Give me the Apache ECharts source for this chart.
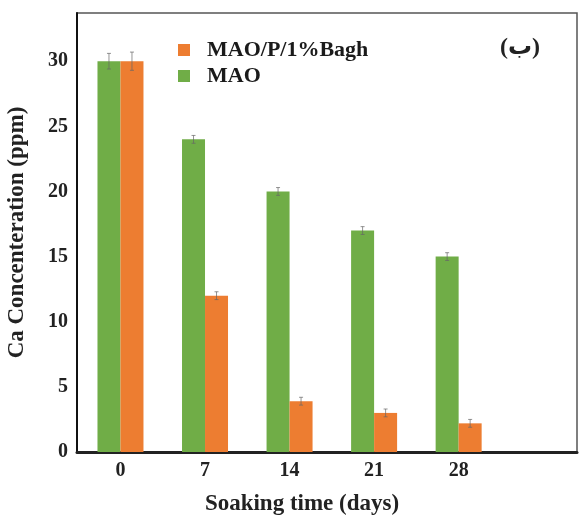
<!DOCTYPE html>
<html>
<head>
<meta charset="utf-8">
<script src="https://cdn.jsdelivr.net/npm/echarts@6/dist/echarts.min.js"></script>
<style>
  html, body { margin: 0; padding: 0; background: #fff; }
  #chart { width: 579px; height: 520px; }
</style>
</head>
<body>
<div id="chart"></div>
<script>
// Soaking time (days) and Ca concentration (ppm)
const days = [0, 7, 14, 21, 28];
const maoValues = [30, 24, 20, 17, 15];
const bagValues = [30, 12, 3.9, 3.0, 2.2];
const maoErrors = [0.6, 0.3, 0.3, 0.3, 0.3];
const bagErrors = [0.7, 0.3, 0.3, 0.3, 0.3];
const yTicks = [0, 5, 10, 15, 20, 25, 30];

const GREEN = '#70AD47';
const ORANGE = '#ED7D31';
const FONT = '"Liberation Serif", "Times New Roman", serif';
const BAR_W = 23;

const chart = echarts.init(document.getElementById('chart'), null, { renderer: 'canvas' });

function pairs(vals) { return days.map((d, i) => [d, vals[i]]); }
function errPairs(vals, errs) { return days.map((d, i) => [d, vals[i], errs[i]]); }

// whisker with small caps, shifted to the middle of its bar
function errorRenderer(shift) {
  return function (params, api) {
    const x = api.value(0), v = api.value(1), e = api.value(2);
    const hi = api.coord([x, v + e]);
    const lo = api.coord([x, v - e]);
    const cx = hi[0] + shift;
    const style = { stroke: '#666', lineWidth: 1, opacity: 0.7 };
    return {
      type: 'group',
      children: [
        { type: 'line', shape: { x1: cx, y1: hi[1], x2: cx, y2: lo[1] }, style },
        { type: 'line', shape: { x1: cx - 2, y1: hi[1], x2: cx + 2, y2: hi[1] }, style },
        { type: 'line', shape: { x1: cx - 2, y1: lo[1], x2: cx + 2, y2: lo[1] }, style }
      ]
    };
  };
}

chart.setOption({
  animation: false,
  backgroundColor: '#fff',
  grid: {
    left: 77, right: 2, top: 13, bottom: 68,
    outerBoundsMode: 'none',
    show: true, borderColor: '#555', borderWidth: 1.5
  },
  legend: {
    data: ['MAO/P/1%Bagh', 'MAO'],
    orient: 'vertical',
    left: 173, top: 34,
    icon: 'rect',
    itemWidth: 12, itemHeight: 12,
    itemGap: 4,
    textStyle: {
      fontFamily: FONT, fontWeight: 'bold', fontSize: 22, color: '#1a1a1a',
      padding: [0, 0, 0, 12]
    }
  },
  xAxis: {
    type: 'value',
    min: -3.6, max: 37.8,
    splitLine: { show: false },
    axisTick: { show: false },
    axisLine: { show: true, onZero: false, lineStyle: { color: '#222', width: 3 } },
    axisLabel: {
      customValues: days,
      margin: 9,
      fontFamily: FONT, fontWeight: 'bold', fontSize: 20, color: '#222'
    },
    name: 'Soaking time (days)',
    nameLocation: 'middle',
    nameGap: 41,
    nameTextStyle: {
      fontFamily: FONT, fontWeight: 'bold', fontSize: 23, color: '#222',
      padding: [0, 50, 0, 0]
    }
  },
  yAxis: {
    type: 'value',
    min: 0, max: 33.7,
    splitLine: { show: false },
    axisTick: { show: false },
    axisLine: { show: true, onZero: false, lineStyle: { color: '#111', width: 2 } },
    axisLabel: {
      customValues: yTicks,
      margin: 9,
      fontFamily: FONT, fontWeight: 'bold', fontSize: 20, color: '#222'
    },
    name: 'Ca Concenteration (ppm)',
    nameLocation: 'middle',
    nameGap: 48,
    nameTextStyle: {
      fontFamily: FONT, fontWeight: 'bold', fontSize: 23, color: '#222'
    }
  },
  series: [
    {
      name: 'MAO', type: 'bar', data: pairs(maoValues),
      barWidth: BAR_W, barGap: '0%',
      itemStyle: { color: GREEN }
    },
    {
      name: 'MAO/P/1%Bagh', type: 'bar', data: pairs(bagValues),
      barWidth: BAR_W, barGap: '0%',
      itemStyle: { color: ORANGE }
    },
    {
      type: 'custom', data: errPairs(maoValues, maoErrors),
      renderItem: errorRenderer(-BAR_W / 2), z: 5, silent: true
    },
    {
      type: 'custom', data: errPairs(bagValues, bagErrors),
      renderItem: errorRenderer(BAR_W / 2), z: 5, silent: true
    }
  ],
  graphic: [
    {
      type: 'text', left: 500, top: 36, z: 10,
      style: {
        text: '(ب)',
        font: 'bold 24px "Liberation Serif", "DejaVu Sans", serif',
        fill: '#222'
      }
    }
  ]
});
</script>
</body>
</html>
